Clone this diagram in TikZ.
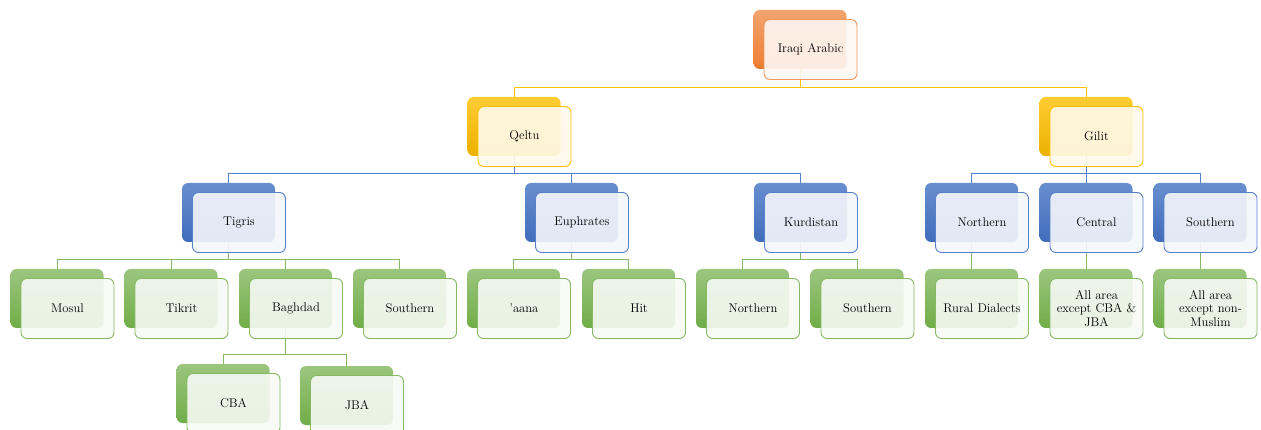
\documentclass[tikz,border=0pt]{standalone}
\usepackage{tikz}

\definecolor{accOr}{HTML}{ED7D31}
\definecolor{accYe}{HTML}{FFC000}
\definecolor{accBl}{HTML}{4472C4}
\definecolor{accGr}{HTML}{70AD47}

\begin{document}
\begin{tikzpicture}[x=1pt,y=-1pt,
    back/.style={minimum width=93pt, minimum height=59pt, rounded corners=6pt, inner sep=0pt},
    front/.style={draw, line width=0.9pt, minimum width=93pt, minimum height=60pt, rounded corners=6pt,
        inner sep=1pt, align=center, fill opacity=0.9, text opacity=1, font=\fontsize{12.6}{13.5}\selectfont},
    orB/.style={back, top color=accOr!70!white, bottom color=accOr},
    yeB/.style={back, top color=accYe!80!white, bottom color=accYe!92!black},
    blB/.style={back, top color=accBl!80!white, bottom color=accBl!95!black},
    grB/.style={back, top color=accGr!70!white, bottom color=accGr},
    orF/.style={front, draw=accOr!80!white, fill=accOr!6!white},
    yeF/.style={front, draw=accYe, fill=accYe!8!white},
    blF/.style={front, draw=accBl!90!white, fill=accBl!6!white},
    grF/.style={front, draw=accGr!85!white, fill=accGr!6!white},
    link/.style={line width=0.9pt}]
        \useasboundingbox (0,0) rectangle (1261,430);

        % back shapes
        \node[orB] (rootB) at (800,39.5) {};
        \node[yeB] (qeltuB) at (514,126.5) {};
        \node[yeB] (gilitB) at (1086,126.5) {};
        \node[blB] (tigrisB) at (228.5,212.5) {};
        \node[blB] (euphB) at (571.5,212.5) {};
        \node[blB] (kurdB) at (800.5,212.5) {};
        \node[blB] (gnorthB) at (971.5,212.5) {};
        \node[blB] (gcentB) at (1086,212.5) {};
        \node[blB] (gsouthB) at (1200,212.5) {};
        \node[grB] (mosulB) at (57,298.5) {};
        \node[grB] (tikritB) at (171,298.5) {};
        \node[grB] (baghB) at (285.5,298.5) {};
        \node[grB] (tsouthB) at (399.5,298.5) {};
        \node[grB] (aanaB) at (513.5,298.5) {};
        \node[grB] (hitB) at (628.5,298.5) {};
        \node[grB] (knorthB) at (742.5,298.5) {};
        \node[grB] (ksouthB) at (857,298.5) {};
        \node[grB] (ruralB) at (971.5,298.5) {};
        \node[grB] (allcB) at (1086,298.5) {};
        \node[grB] (allsB) at (1200,298.5) {};
        \node[grB] (cbaB) at (223,393.5) {};
        \node[grB] (jbaB) at (346.5,395.5) {};

        % connectors
        \draw[link,accYe] (qeltuB.north) -- ++(0,-9) -| (rootB.south);
        \draw[link,accYe] (gilitB.north) -- ++(0,-9) -| (rootB.south);
        \draw[link,accBl!90!white] (tigrisB.north) -- ++(0,-9) -| (qeltuB.south);
        \draw[link,accBl!90!white] (euphB.north) -- ++(0,-9) -| (qeltuB.south);
        \draw[link,accBl!90!white] (kurdB.north) -- ++(0,-9) -| (qeltuB.south);
        \draw[link,accBl!90!white] (gnorthB.north) -- ++(0,-9) -| (gilitB.south);
        \draw[link,accBl!90!white] (gcentB.north) -- ++(0,-9) -| (gilitB.south);
        \draw[link,accBl!90!white] (gsouthB.north) -- ++(0,-9) -| (gilitB.south);
        \draw[link,accGr!85!white] (mosulB.north) -- ++(0,-9) -| (tigrisB.south);
        \draw[link,accGr!85!white] (tikritB.north) -- ++(0,-9) -| (tigrisB.south);
        \draw[link,accGr!85!white] (baghB.north) -- ++(0,-9) -| (tigrisB.south);
        \draw[link,accGr!85!white] (tsouthB.north) -- ++(0,-9) -| (tigrisB.south);
        \draw[link,accGr!85!white] (aanaB.north) -- ++(0,-9) -| (euphB.south);
        \draw[link,accGr!85!white] (hitB.north) -- ++(0,-9) -| (euphB.south);
        \draw[link,accGr!85!white] (knorthB.north) -- ++(0,-9) -| (kurdB.south);
        \draw[link,accGr!85!white] (ksouthB.north) -- ++(0,-9) -| (kurdB.south);
        \draw[link,accGr!85!white] (ruralB.north) -- ++(0,-9) -| (gnorthB.south);
        \draw[link,accGr!85!white] (allcB.north) -- ++(0,-9) -| (gcentB.south);
        \draw[link,accGr!85!white] (allsB.north) -- ++(0,-9) -| (gsouthB.south);
        \draw[link,accGr!85!white] (cbaB.north) -- ++(0,-9) -| (baghB.south);
        \draw[link,accGr!85!white] (jbaB.north) -- ++(0,-11) -| (baghB.south);

        % front boxes with the labels
        \node[orF] (root) at (810.5,49.5) {Iraqi Arabic};
        \node[yeF] (qeltu) at (524.5,136.5) {Qeltu};
        \node[yeF] (gilit) at (1096.5,136.5) {Gilit};
        \node[blF] (tigris) at (239,222.5) {Tigris};
        \node[blF] (euph) at (582,222.5) {Euphrates};
        \node[blF] (kurd) at (811,222.5) {Kurdistan};
        \node[blF] (gnorth) at (982,222.5) {Northern};
        \node[blF] (gcent) at (1096.5,222.5) {Central};
        \node[blF] (gsouth) at (1210.5,222.5) {Southern};
        \node[grF] (mosul) at (67.5,308.5) {Mosul};
        \node[grF] (tikrit) at (181.5,308.5) {Tikrit};
        \node[grF] (bagh) at (296,308.5) {Baghdad};
        \node[grF] (tsouth) at (410,308.5) {Southern};
        \node[grF] (aana) at (524,308.5) {\textquoteright aana};
        \node[grF] (hit) at (639,308.5) {Hit};
        \node[grF] (knorth) at (753,308.5) {Northern};
        \node[grF] (ksouth) at (867.5,308.5) {Southern};
        \node[grF] (rural) at (982,308.5) {Rural Dialects};
        \node[grF] (allc) at (1096.5,308.5) {All area\\ except CBA \&\\ JBA};
        \node[grF] (alls) at (1210.5,308.5) {All area\\ except non-\\ Muslim};
        \node[grF] (cba) at (233.5,403.5) {CBA};
        \node[grF] (jba) at (357,405.5) {JBA};
\end{tikzpicture}
\end{document}
